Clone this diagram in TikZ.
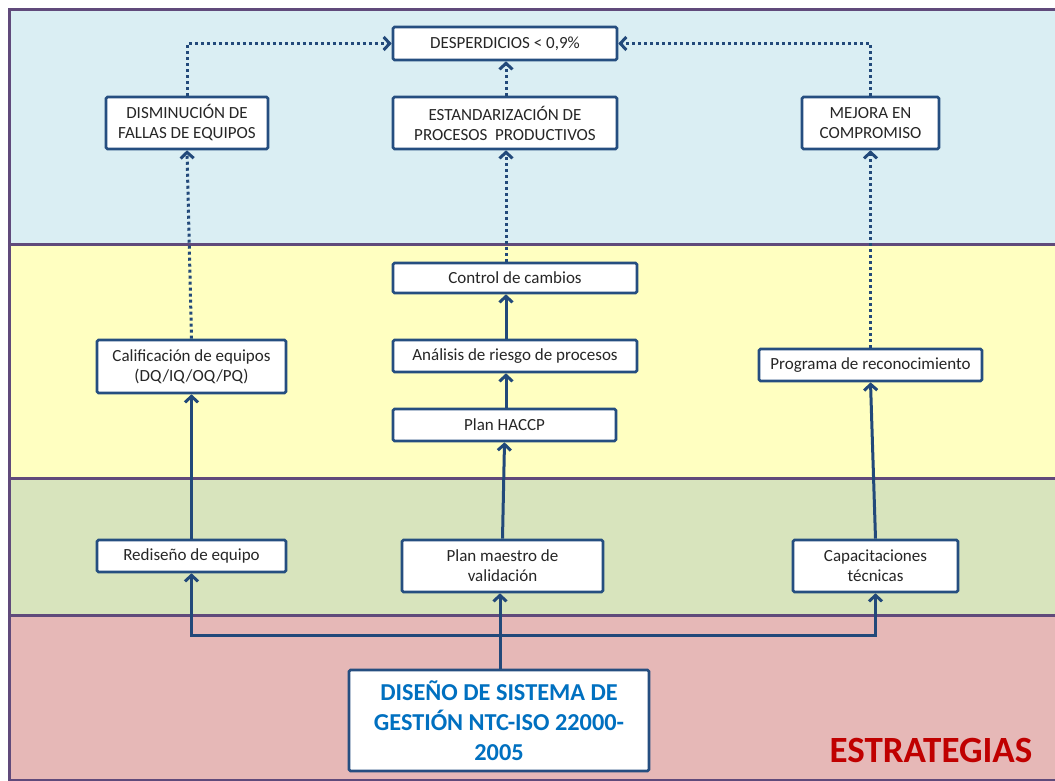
\documentclass[tikz,border=0pt]{standalone}
\usepackage{fontspec}
\setmainfont{Carlito}
\usetikzlibrary{arrows.meta}
\definecolor{bandblue}{HTML}{DAEEF3}
\definecolor{bandyellow}{HTML}{FFFFC1}
\definecolor{bandgreen}{HTML}{D8E4BD}
\definecolor{bandpink}{HTML}{E6B8B7}
\definecolor{bandline}{HTML}{604A7B}
\definecolor{boxline}{HTML}{254E80}
\definecolor{arrowc}{HTML}{22497A}
\definecolor{titleblue}{HTML}{0070C0}
\definecolor{redtxt}{HTML}{C00000}
\definecolor{txt}{HTML}{262626}
\begin{document}
\begin{tikzpicture}[x=1pt,y=-1pt,
 band/.style={draw=bandline, line width=3pt},
 box/.style={draw=boxline, fill=white, line width=2.6pt, rounded corners=1.5pt, inner sep=0pt, align=center, text=txt, font=\fontsize{17}{20}\selectfont},
 solidarr/.style={draw=arrowc, line width=3pt, -{Straight Barb[length=6pt,width=13pt]}},
 dotarr/.style={draw=arrowc, line width=3pt, dash pattern=on 3pt off 3pt, -{Straight Barb[length=6pt,width=13pt]}},
]
\useasboundingbox (0,0) rectangle (1055,781);
\clip (0,0) rectangle (1055,781);
\fill[white] (0,0) rectangle (1055,781);
\draw[band, fill=bandblue] (9.5,10) rectangle (1070,244);
\draw[band, fill=bandyellow] (9.5,244) rectangle (1070,478);
\draw[band, fill=bandgreen] (9.5,478) rectangle (1070,615);
\draw[band, fill=bandpink] (9.5,615) rectangle (1070,780);

% top band
\node[box, minimum width=224pt, minimum height=33pt] (desp) at (505,43.5) {DESPERDICIOS < 0,9\%};
\node[box, minimum width=162pt, minimum height=52pt] (dism) at (187,123) {DISMINUCIÓN DE\\FALLAS DE EQUIPOS};
\node[box, minimum width=224pt, minimum height=52pt] (estand) at (505,123) {ESTANDARIZACIÓN DE\\PROCESOS\ \ PRODUCTIVOS};
\node[box, minimum width=137pt, minimum height=52pt] (mejora) at (870.5,123) {MEJORA EN\\COMPROMISO};

% yellow band
\node[box, minimum width=244pt, minimum height=30pt] (ctrl) at (515,278) {Control de cambios};
\node[box, minimum width=244pt, minimum height=32pt] (anal) at (515,356) {Análisis de riesgo de procesos};
\node[box, minimum width=223pt, minimum height=32pt] (haccp) at (504.5,425) {Plan HACCP};
\node[box, minimum width=189pt, minimum height=53pt] (calif) at (191.5,366.5) {Calificación de equipos\\(DQ/IQ/OQ/PQ)};
\node[box, minimum width=223pt, minimum height=32pt] (prog) at (870.5,365) {Programa de reconocimiento};

% green band
\node[box, minimum width=189pt, minimum height=32pt] (redis) at (191.5,556) {Rediseño de equipo};
\node[box, minimum width=201pt, minimum height=52pt] (maestro) at (502.5,566) {Plan maestro de\\validación};
\node[box, minimum width=165pt, minimum height=52pt] (capac) at (875.5,566) {Capacitaciones\\técnicas};

% pink band
\node[box, minimum width=300pt, minimum height=101pt, text=titleblue, font=\bfseries\fontsize{24.3}{30}\selectfont] (diseno) at (499,720.5) {DISEÑO DE SISTEMA DE\\GESTIÓN NTC-ISO 22000-\\2005};
\node[text=redtxt, font=\bfseries\fontsize{37}{40}\selectfont, inner sep=0pt] (estr) at (931,750) {ESTRATEGIAS};

\coordinate (bus) at (500,635);

% solid arrows
\draw[solidarr] (diseno.north -| bus) -- (maestro.south -| bus);
\draw[solidarr] (bus) -| (redis.south);
\draw[solidarr] (bus) -| (capac.south);
\draw[solidarr] (maestro.north) -- (haccp.south);
\draw[solidarr] (haccp.north -| 506,0) -- (anal.south -| 506,0);
\draw[solidarr] (anal.north -| 506,0) -- (ctrl.south -| 506,0);
\draw[solidarr] (redis.north) -- (calif.south);
\draw[solidarr] (capac.north) -- (prog.south);

% dotted arrows
\draw[dotarr] (ctrl.north -| 506,0) -- (estand.south -| 506,0);
\draw[dotarr] (calif.north) -- (dism.south);
\draw[dotarr] (prog.north) -- (mejora.south);
\draw[dotarr] (estand.north -| 506,0) -- (desp.south -| 506,0);
\draw[dotarr] (dism.north) |- (desp.west);
\draw[dotarr] (mejora.north) |- (desp.east);
\end{tikzpicture}
\end{document}
